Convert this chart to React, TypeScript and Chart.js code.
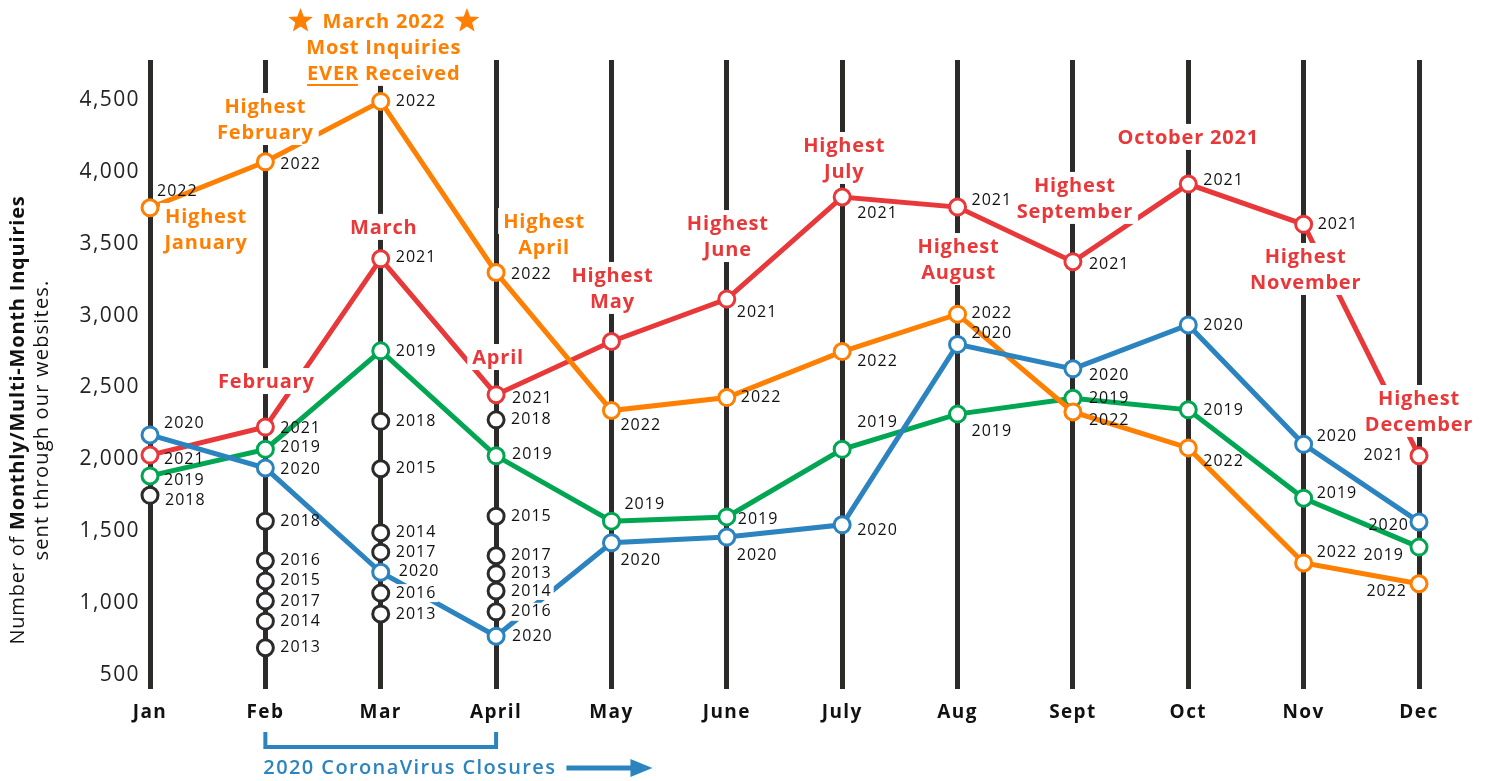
import React, { useEffect, useRef } from 'react';
import { Chart, registerables } from 'chart.js';
Chart.register(...registerables);

const months = ['Jan', 'Feb', 'Mar', 'April', 'May', 'June', 'July', 'Aug', 'Sept', 'Oct', 'Nov', 'Dec'];
const yTicks = [500, 1000, 1500, 2000, 2500, 3000, 3500, 4000, 4500];

const v2022 = [3750, 4070, 4490, 3300, 2340, 2430, 2750, 3010, 2330, 2080, 1280, 1135];
const v2021 = [2030, 2225, 3395, 2450, 2820, 3115, 3825, 3755, 3375, 3915, 3635, 2025];
const v2020 = [2170, 1940, 1215, 770, 1420, 1460, 1545, 2800, 2630, 2935, 2105, 1565];
const v2019 = [1885, 2070, 2755, 2025, 1570, 1600, 2070, 2315, 2425, 2345, 1730, 1390];
const v2018 = [1750, 1570, 2265, 2275, null, null, null, null, null, null, null, null];
const v2017 = [null, 1015, 1355, 1330, null, null, null, null, null, null, null, null];
const v2016 = [null, 1295, 1070, 940, null, null, null, null, null, null, null, null];
const v2015 = [null, 1155, 1935, 1605, null, null, null, null, null, null, null, null];
const v2014 = [null, 875, 1490, 1085, null, null, null, null, null, null, null, null];
const v2013 = [null, 690, 925, 1205, null, null, null, null, null, null, null, null];

const ORANGE = '#ff7f00';
const RED = '#e8383a';
const BLUE = '#2b83bf';
const GREEN = '#00a651';
const DARK = '#2d2a2a';
const FONT = '"Open Sans", sans-serif';

// label offsets [dx, dy, bg]; dx < 0 => right-aligned ending at point x + dx
type Off = [number, number, boolean?] | null;
const off2022: Off[] = [[7, -16], [15, 3], [15, 0], [15, 2], [9, 15], [14, 0], [15, 10], [14, -1], [16, 8], [15, 14], [13, -10], [-12, 8]];
const off2021: Off[] = [[14, 4], [15, 1], [15, -1], [16, 4], null, [10, 13], [15, 16], [14, -7], [16, 3], [15, -4], [14, 0], [-15, 0]];
const off2020: Off[] = [[14, -12], [15, 1], [18, -1], [16, 0], [9, 18], [10, 18], [15, 6], [14, -11], [16, 7], [15, 0], [13, -8], [-10, 3]];
const off2019: Off[] = [[14, 5], [15, -2], [15, 1], [16, -1], [13, -17], [11, 3], [15, -27], [14, 17], [16, 0], [15, 1], [13, -5], [-15, 8]];
const offBlack = (bgIdx: number[] = []): Off[] => months.map((_, i) => [15, i === 0 ? 5 : 0, bgIdx.includes(i)] as Off);

const series = [
  { year: '2022', data: v2022, off: off2022 },
  { year: '2021', data: v2021, off: off2021 },
  { year: '2020', data: v2020, off: off2020 },
  { year: '2019', data: v2019, off: off2019 },
  { year: '2018', data: v2018, off: offBlack() },
  { year: '2017', data: v2017, off: offBlack() },
  { year: '2016', data: v2016, off: offBlack([2, 3]) },
  { year: '2015', data: v2015, off: offBlack() },
  { year: '2014', data: v2014, off: offBlack([3]) },
  { year: '2013', data: v2013, off: offBlack() },
];

// annotations: month index, x offset, value at first line centre
const annotations = [
  { lines: ['Highest', 'January'], color: ORANGE, idx: 0, dx: 56, v: 3693 },
  { lines: ['Highest', 'February'], color: ORANGE, idx: 1, dx: 0, v: 4458 },
  { lines: ['March 2022', 'Most Inquiries', 'EVER Received'], color: ORANGE, idx: 2, dx: 3, v: 5050, special: true },
  { lines: ['Highest', 'April'], color: ORANGE, idx: 3, dx: 48, v: 3658 },
  { lines: ['February'], color: RED, idx: 1, dx: 1, v: 2545 },
  { lines: ['March'], color: RED, idx: 2, dx: 3, v: 3617 },
  { lines: ['April'], color: RED, idx: 3, dx: 2, v: 2712 },
  { lines: ['Highest', 'May'], color: RED, idx: 4, dx: 1, v: 3283 },
  { lines: ['Highest', 'June'], color: RED, idx: 5, dx: 1, v: 3644 },
  { lines: ['Highest', 'July'], color: RED, idx: 6, dx: 2, v: 4187 },
  { lines: ['Highest', 'August'], color: RED, idx: 7, dx: 1, v: 3484 },
  { lines: ['Highest', 'September'], color: RED, idx: 8, dx: 2, v: 3909 },
  { lines: ['October 2021'], color: RED, idx: 9, dx: 0, v: 4243 },
  { lines: ['Highest', 'November'], color: RED, idx: 10, dx: 2, v: 3415 },
  { lines: ['Highest', 'December'], color: RED, idx: 11, dx: 0, v: 2427 },
];

function drawStar(ctx: CanvasRenderingContext2D, cx: number, cy: number, ro: number, ri: number, color: string) {
  ctx.beginPath();
  for (let k = 0; k < 10; k++) {
    const r = k % 2 === 0 ? ro : ri;
    const a = -Math.PI / 2 + (k * Math.PI) / 5;
    const px = cx + r * Math.cos(a);
    const py = cy + r * Math.sin(a);
    if (k === 0) ctx.moveTo(px, py);
    else ctx.lineTo(px, py);
  }
  ctx.closePath();
  ctx.fillStyle = color;
  ctx.fill();
}

function setLS(ctx: any, v: string) {
  if ('letterSpacing' in ctx) ctx.letterSpacing = v;
}

const customPlugin = {
  id: 'customText',
  beforeDraw(chart: any) {
    setLS(chart.ctx, '1.4px');
  },
  beforeDatasetsDraw(chart: any) {
    setLS(chart.ctx, '0px');
  },
  afterDatasetsDraw(chart: any) {
    const { ctx } = chart;
    const xs = chart.scales.x;
    const ys = chart.scales.y;
    ctx.save();
    // year labels
    setLS(ctx, '1px');
    ctx.font = `16px ${FONT}`;
    ctx.textBaseline = 'middle';
    series.forEach((s) => {
      s.data.forEach((v, i) => {
        if (v == null) return;
        const o = s.off[i];
        if (!o) return;
        const px = xs.getPixelForValue(i);
        const py = ys.getPixelForValue(v);
        const w = ctx.measureText(s.year).width;
        const left = o[0] >= 0 ? px + o[0] : px + o[0] - w;
        const cy = py + o[1];
        if (o[2]) {
          ctx.fillStyle = '#fff';
          ctx.fillRect(left - 2, cy - 9, w + 4, 18);
        }
        ctx.fillStyle = '#111';
        ctx.textAlign = 'left';
        ctx.fillText(s.year, left, cy);
      });
    });
    // annotations
    setLS(ctx, '0.8px');
    ctx.font = `bold 20px ${FONT}`;
    ctx.textAlign = 'center';
    annotations.forEach((a) => {
      const cx = xs.getPixelForValue(a.idx) + a.dx;
      const cy0 = ys.getPixelForValue(a.v);
      a.lines.forEach((ln, j) => {
        const cy = cy0 + j * 26;
        const w = ctx.measureText(ln).width;
        ctx.fillStyle = '#fff';
        ctx.fillRect(cx - w / 2 - 5, cy - 13, w + 10, 26);
      });
      a.lines.forEach((ln, j) => {
        const cy = cy0 + j * 26;
        ctx.fillStyle = a.color;
        ctx.fillText(ln, cx, cy + 1);
        if (a.special && j === 0) {
          const w = ctx.measureText(ln).width;
          drawStar(ctx, cx - w / 2 - 22, cy, 13, 5.5, a.color);
          drawStar(ctx, cx + w / 2 + 22, cy, 13, 5.5, a.color);
        }
        if (a.special && j === 2) {
          const w = ctx.measureText(ln).width;
          const we = ctx.measureText('EVER').width;
          const start = cx - w / 2;
          ctx.strokeStyle = a.color;
          ctx.lineWidth = 2;
          ctx.beginPath();
          ctx.moveTo(start, cy + 12);
          ctx.lineTo(start + we - 1, cy + 12);
          ctx.stroke();
        }
      });
    });
    ctx.restore();
  },
  afterDraw(chart: any) {
    const { ctx } = chart;
    const xs = chart.scales.x;
    ctx.save();
    // Y axis title
    ctx.fillStyle = '#111';
    ctx.textBaseline = 'middle';
    ctx.textAlign = 'left';
    ctx.translate(18, 420);
    ctx.rotate(-Math.PI / 2);
    setLS(ctx, '0.8px');
    const p1 = 'Number of ';
    const p2 = 'Monthly/Multi-Month Inquiries';
    ctx.font = `20px ${FONT}`;
    const w1 = ctx.measureText(p1).width;
    ctx.font = `bold 20px ${FONT}`;
    const w2 = ctx.measureText(p2).width;
    const st = -(w1 + w2) / 2;
    ctx.font = `20px ${FONT}`;
    ctx.fillText(p1, st, 0);
    ctx.font = `bold 20px ${FONT}`;
    ctx.fillText(p2, st + w1, 0);
    setLS(ctx, '1.2px');
    ctx.font = `20px ${FONT}`;
    ctx.textAlign = 'center';
    ctx.fillText('sent through our websites.', 0, 24);
    ctx.restore();

    // Corona closures bracket
    ctx.save();
    const x1 = xs.getPixelForValue(1);
    const x2 = xs.getPixelForValue(3);
    ctx.strokeStyle = BLUE;
    ctx.lineWidth = 4;
    ctx.lineCap = 'butt';
    ctx.beginPath();
    ctx.moveTo(x1, 732);
    ctx.lineTo(x1, 747);
    ctx.lineTo(x2, 747);
    ctx.lineTo(x2, 732);
    ctx.stroke();
    setLS(ctx, '1.4px');
    ctx.font = `600 20px ${FONT}`;
    ctx.fillStyle = BLUE;
    ctx.textAlign = 'left';
    ctx.textBaseline = 'middle';
    const label = '2020 CoronaVirus Closures';
    ctx.fillText(label, x1 - 2, 768);
    const tw = ctx.measureText(label).width;
    const ax = x1 - 2 + tw + 10;
    ctx.lineWidth = 5;
    ctx.beginPath();
    ctx.moveTo(ax, 768);
    ctx.lineTo(ax + 66, 768);
    ctx.stroke();
    ctx.beginPath();
    ctx.moveTo(ax + 86, 768);
    ctx.lineTo(ax + 64, 759);
    ctx.lineTo(ax + 64, 777);
    ctx.closePath();
    ctx.fill();
    ctx.restore();
  },
};

export default function App() {
  const ref = useRef<HTMLCanvasElement>(null);
  useEffect(() => {
    document.body.style.margin = '0';
    const mkLine = (label: string, data: any[], color: string, order: number) => ({
      label,
      data,
      borderColor: color,
      backgroundColor: '#fff',
      borderWidth: 5,
      pointRadius: 8,
      pointBorderWidth: 3,
      pointBackgroundColor: '#fff',
      pointBorderColor: color,
      order,
    });
    const mkDots = (label: string, data: any[]) => ({
      label,
      data,
      showLine: false,
      borderColor: DARK,
      backgroundColor: '#fff',
      pointRadius: 8,
      pointBorderWidth: 3,
      pointBackgroundColor: '#fff',
      pointBorderColor: DARK,
      order: 10,
    });
    const chart = new Chart(ref.current!, {
      type: 'line',
      data: {
        labels: months,
        datasets: [
          mkLine('2020', v2020, BLUE, 1),
          mkLine('2022', v2022, ORANGE, 2),
          mkLine('2019', v2019, GREEN, 3),
          mkLine('2021', v2021, RED, 4),
          mkDots('2018', v2018),
          mkDots('2017', v2017),
          mkDots('2016', v2016),
          mkDots('2015', v2015),
          mkDots('2014', v2014),
          mkDots('2013', v2013),
        ] as any,
      },
      options: {
        animation: false,
        responsive: false,
        devicePixelRatio: 1,
        layout: { padding: { left: 0, right: 70, top: 60, bottom: 0 } },
        plugins: { legend: { display: false }, tooltip: { enabled: false } },
        scales: {
          x: {
            offset: false,
            grid: { color: DARK, lineWidth: 5, drawTicks: false },
            border: { display: false },
            ticks: { color: '#111', font: { family: FONT, size: 19, weight: 'bold' }, padding: 12, maxRotation: 0, autoSkip: false },
            afterFit: (s: any) => { s.height = 92; },
          },
          y: {
            min: 403,
            max: 4778,
            grid: { display: false, drawTicks: false },
            border: { display: false },
            afterBuildTicks: (s: any) => { s.ticks = yTicks.map((v) => ({ value: v })); },
            ticks: {
              color: '#222',
              font: { family: FONT, size: 21 },
              padding: 10,
              callback: (v: any) => Number(v).toLocaleString('en-US'),
            },
            afterFit: (s: any) => { s.width = 150; },
          },
        },
      } as any,
      plugins: [customPlugin],
    });
    return () => chart.destroy();
  }, []);
  return (
    <div style={{ width: 1489, height: 781 }}>
      <canvas ref={ref} width={1489} height={781} style={{ display: 'block' }} />
    </div>
  );
}
